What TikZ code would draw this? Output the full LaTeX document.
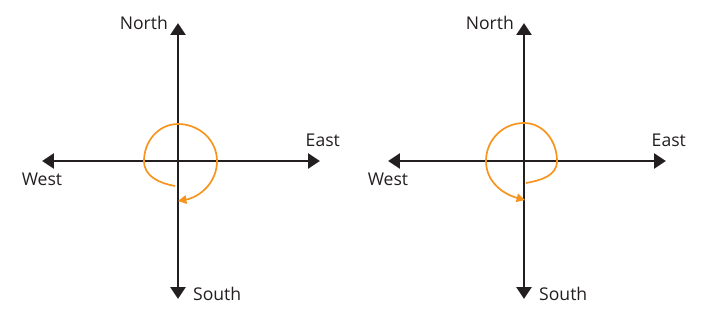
\documentclass[tikz,border=0pt]{standalone}
\usepackage{fontspec}
\setmainfont{Open Sans}
\usetikzlibrary{arrows.meta,positioning}
\definecolor{axisdark}{HTML}{231F20}
\definecolor{turnorange}{HTML}{F7941D}

\begin{document}
\begin{tikzpicture}[
  x=0.025cm, y=0.025cm,
  font=\fontsize{12.5}{15}\selectfont,
  axis/.style={draw=axisdark, line width=2.1pt, {Triangle[length=8.5pt,width=10.5pt]}-{Triangle[length=8.5pt,width=10.5pt]}},
  turn/.style={draw=turnorange, line width=1.2pt, -{Triangle[length=6pt,width=6pt]}},
  dirlabel/.style={inner sep=0pt, text=axisdark}
]
\useasboundingbox (0,0) rectangle (705,-325);

% left compass
\coordinate (n1) at (178,-23);
\coordinate (s1) at (178,-299);
\coordinate (w1) at (42,-161);
\coordinate (e1) at (320,-161);

\draw[axis] (n1) -- (s1);
\draw[axis] (w1) -- (e1);

\node[dirlabel, left=7pt of n1] (north1) {North};
\node[dirlabel, above=10pt of e1, xshift=2pt] (east1) {East};
\node[dirlabel, below=8.5pt of w1] (west1) {West};
\node[dirlabel, right=10.6pt of s1, yshift=3.9pt] (south1) {South};

\draw[turn] (175,-186) to[out=170,in=270] (144,-161) to[out=90,in=180] (178,-124)
  to[out=0,in=90] (217,-161) to[out=270,in=10] (178,-201);

% right compass
\coordinate (n2) at (524,-23);
\coordinate (s2) at (524,-299);
\coordinate (w2) at (388,-161);
\coordinate (e2) at (666,-161);

\draw[axis] (n2) -- (s2);
\draw[axis] (w2) -- (e2);

\node[dirlabel, left=7pt of n2] (north2) {North};
\node[dirlabel, above=10pt of e2, xshift=2pt] (east2) {East};
\node[dirlabel, below=8.5pt of w2] (west2) {West};
\node[dirlabel, right=10.6pt of s2, yshift=3.9pt] (south2) {South};

\draw[turn] (526,-183) to[out=10,in=270] (557,-161) to[out=90,in=0] (524,-123)
  to[out=180,in=90] (486,-161) to[out=270,in=165] (525,-200);
\end{tikzpicture}
\end{document}
